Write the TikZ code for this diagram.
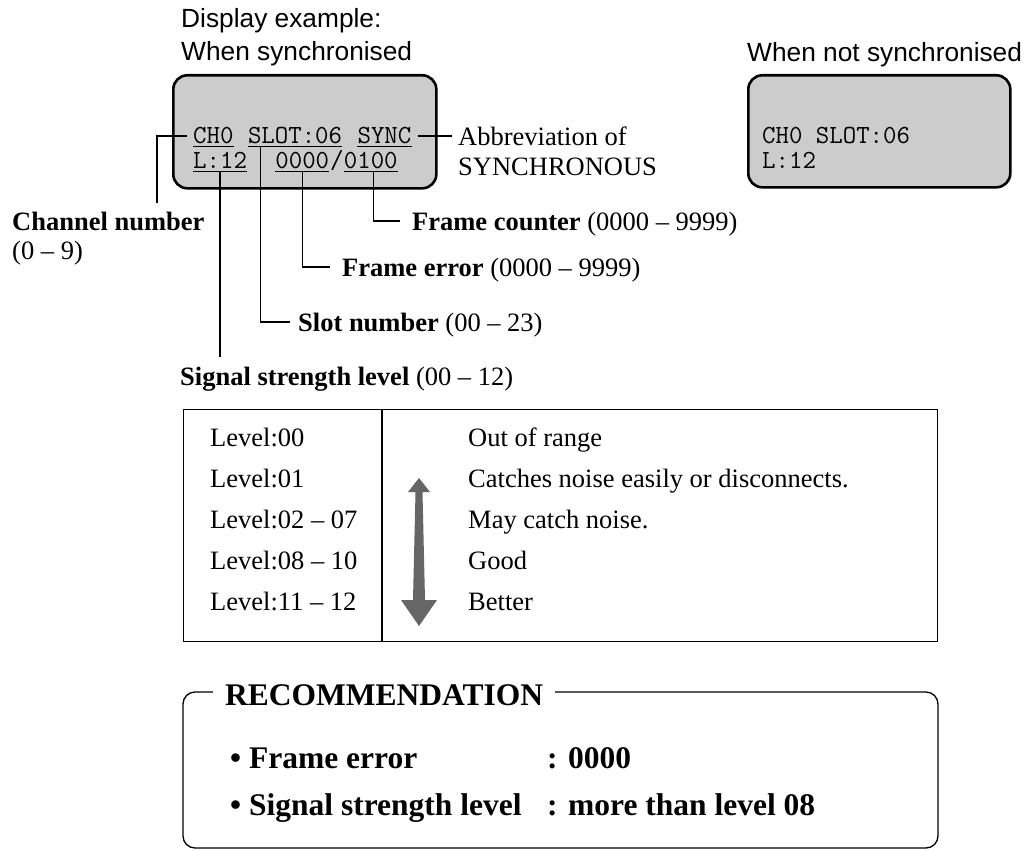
\documentclass[tikz,border=0pt]{standalone}
\usepackage{fontspec}
\setmainfont{Liberation Serif}
\setsansfont{Liberation Sans}
\definecolor{lcdgray}{HTML}{CCCCCC}
\definecolor{arrgray}{HTML}{666666}
\begin{document}
\begin{tikzpicture}[x=1pt,y=-1pt,
  txt/.style={anchor=base west, inner sep=0pt, font=\fontsize{26.5}{30}\selectfont},
  hdr/.style={anchor=base west, inner sep=0pt, font=\sffamily\fontsize{26.3}{30}\selectfont},
  lcd/.style={anchor=base west, inner sep=0pt, font=\ttfamily\fontsize{26.1}{28}\selectfont},
  rec/.style={anchor=base west, inner sep=0pt, font=\bfseries\fontsize{31.5}{36}\selectfont},
  lead/.style={line width=1.3pt},
  ul/.style={line width=1pt},
  lcdbox/.style={draw, line width=2.6pt, fill=lcdgray, rounded corners=14pt, inner sep=0pt, anchor=north west},
  frame/.style={draw, line width=1.3pt, inner sep=0pt, anchor=north west}]
\useasboundingbox (0,0) rectangle (1036,851);

% headers
\node[hdr] (h1) at (181,28) {Display example:};
\node[hdr] (h2) at (181,60) {When synchronised};
\node[hdr] (h3) at (747,62) {When not synchronised};

% LCD boxes
\node[lcdbox, minimum width=263pt, minimum height=113pt] (lcd1) at (172,74) {};
\node[lcdbox, minimum width=262pt, minimum height=112pt] (lcd2) at (747,74) {};

% LCD text (synchronised)
\node[lcd] (ch) at (193,143) {CH0};
\node[lcd] (slot) at (247.8,143) {SLOT:06};
\node[lcd] (sync) at (357.4,143) {SYNC};
\node[lcd] (lv) at (193,168) {L:12};
\node[lcd] (fe) at (275.2,168) {0000};
\node[lcd] (sl) at (330,168) {/};
\node[lcd] (fc) at (343.7,168) {0100};
\foreach \n in {ch,slot,sync,lv,fe,fc}
  \draw[ul] ([yshift=-3pt]\n.base west) -- ([yshift=-3pt]\n.base east);

% LCD text (not synchronised)
\node[lcd] (ch2) at (762,143) {CH0 SLOT:06};
\node[lcd] (lv2) at (762,168) {L:12};

% labels
\node[txt] (abbr) at (458,145) {Abbreviation of};
\node[txt] (abbr2) at (458,175) {SYNCHRONOUS};
\node[txt] (chlbl) at (12,230) {\textbf{Channel number}};
\node[txt] (chrng) at (12,259) {(0 – 9)};
\node[txt] (fclbl) at (412,230) {\textbf{Frame counter} (0000 – 9999)};
\node[txt] (felbl) at (342,276) {\textbf{Frame error} (0000 – 9999)};
\node[txt] (sllbl) at (298,331) {\textbf{Slot number} (00 – 23)};
\node[txt] (sslbl) at (180,385) {\textbf{Signal strength level} (00 – 12)};

% leaders
\coordinate (chend) at (157,203);
\coordinate (lvend) at (220,357);
\draw[lead] ([xshift=-6pt,yshift=7pt]ch.base west) -| (chend);
\draw[lead] ([xshift=6pt,yshift=7pt]sync.base east) -- ([xshift=-6pt,yshift=9pt]abbr.base west);
\draw[lead] ([xshift=3pt,yshift=-3pt]fc.base) |- ([xshift=-12pt,yshift=9pt]fclbl.base west);
\draw[lead] ([yshift=-3pt]fe.base) |- ([xshift=-12pt,yshift=9pt]felbl.base west);
\draw[lead] ([xshift=13pt,yshift=-3pt]slot.base west) |- ([xshift=-8pt,yshift=9pt]sllbl.base west);
\draw[lead] ([yshift=-3pt]lv.base) -- (lv.base |- lvend);

% table
\node[frame, minimum width=754pt, minimum height=232pt] (tbl) at (183,409) {};
\draw[line width=1.3pt] (tbl.north west -| 382,0) -- (tbl.south west -| 382,0);
\node[txt] (l0) at (210,446) {Level:00};
\node[txt] (l1) at (210,487) {Level:01};
\node[txt] (l2) at (210,528) {Level:02 – 07};
\node[txt] (l3) at (210,569) {Level:08 – 10};
\node[txt] (l4) at (210,610) {Level:11 – 12};
\node[txt] (d0) at (468,446) {Out of range};
\node[txt] (d1) at (468,487) {Catches noise easily or disconnects.};
\node[txt] (d2) at (468,528) {May catch noise.};
\node[txt] (d3) at (468,569) {Good};
\node[txt] (d4) at (468,610) {Better};
\fill[arrgray] (419,478) -- (430,492) -- (422.5,492) -- (425,600) -- (437,600) -- (419,626)
  -- (401,600) -- (413,600) -- (415.5,492) -- (408,492) -- cycle;

% recommendation
\draw[line width=1.3pt, rounded corners=12pt] (183,692) rectangle (938,848);
\node[rec, fill=white, inner xsep=12pt, inner ysep=3pt] (rtitle) at (213,705) {RECOMMENDATION};
\node[rec] (b1) at (230,768) {• Frame error};
\node[rec] (v1) at (547,768) {: 0000};
\node[rec] (b2) at (230,815) {• Signal strength level};
\node[rec] (v2) at (547,815) {: more than level 08};
\end{tikzpicture}
\end{document}
